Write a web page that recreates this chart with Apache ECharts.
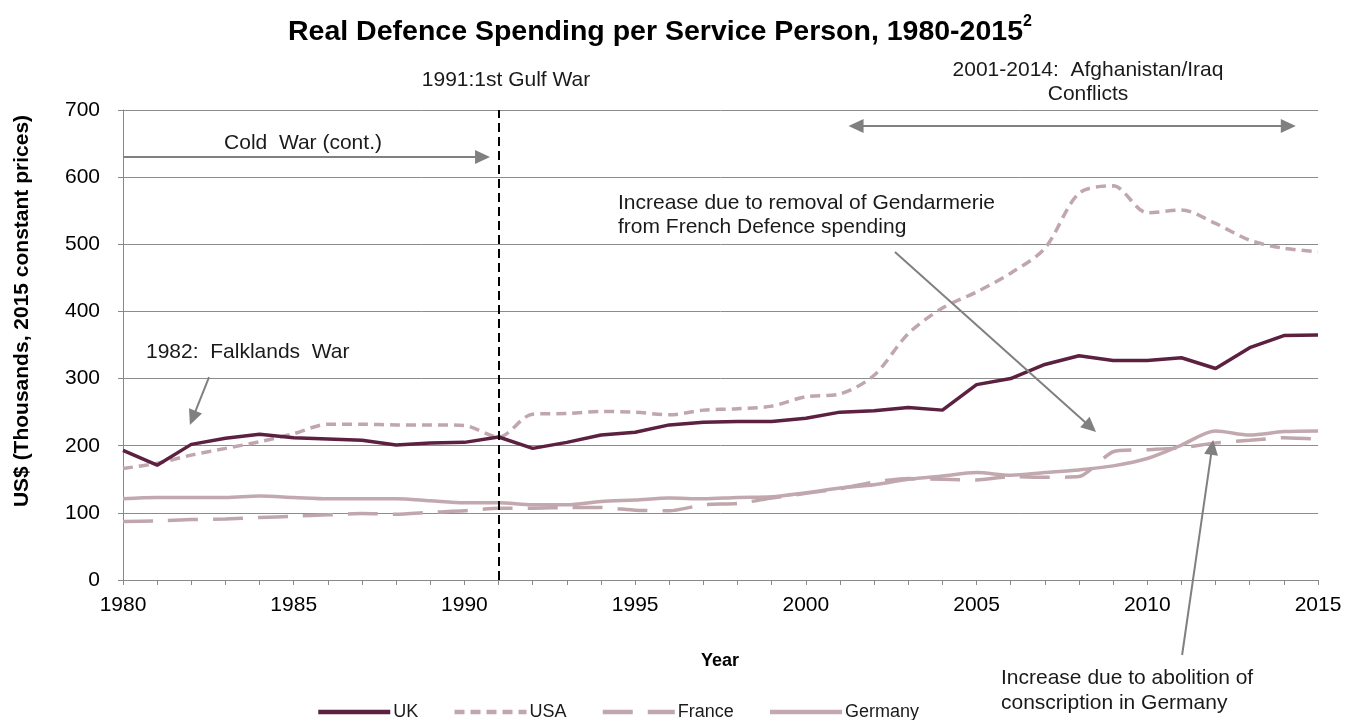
<!DOCTYPE html>
<html>
<head>
<meta charset="utf-8">
<script src="https://cdn.jsdelivr.net/npm/echarts@6/dist/echarts.min.js"></script>
<style>
  html, body { margin: 0; padding: 0; background: #ffffff; }
  #chart { width: 1358px; height: 720px; }
</style>
</head>
<body>
<div id="chart"></div>
<script>
// Years on the horizontal axis
const years = [1980, 1981, 1982, 1983, 1984, 1985, 1986, 1987, 1988, 1989, 1990, 1991,
               1992, 1993, 1994, 1995, 1996, 1997, 1998, 1999, 2000, 2001, 2002, 2003,
               2004, 2005, 2006, 2007, 2008, 2009, 2010, 2011, 2012, 2013, 2014, 2015];

// Real defence spending per service person, US$ thousands (2015 prices)
const uk      = [193, 171, 202, 211, 217, 212, 210, 208, 201, 204, 205, 213,
                 196, 205, 216, 220, 231, 235, 236, 236, 241, 250, 252, 257,
                 253, 291, 300, 321, 334, 327, 327, 331, 315, 346, 364, 365];
const usa     = [166, 174, 186, 196, 206, 218, 232, 232, 231, 231, 230, 213,
                 247, 248, 251, 250, 246, 253, 255, 259, 273, 277, 305, 367,
                 405, 429, 457, 494, 576, 587, 547, 551, 531, 506, 494, 489];
const france  = [87, 88, 90, 91, 93, 95, 97, 99, 98, 101, 103, 107,
                 107, 108, 108, 104, 103, 112, 114, 122, 129, 136, 146, 151,
                 150, 149, 154, 153, 154, 191, 194, 197, 204, 208, 212, 210];
const germany = [121, 123, 123, 123, 125, 123, 121, 121, 121, 118, 115, 115,
                 112, 112, 117, 119, 122, 121, 123, 124, 130, 137, 142, 150,
                 155, 160, 156, 160, 164, 170, 181, 201, 222, 216, 221, 222];

// Axis ticks
const yTicks = [0, 100, 200, 300, 400, 500, 600, 700];
const xLabelYears = [1980, 1985, 1990, 1995, 2000, 2005, 2010, 2015];

const FONT = '"Liberation Sans", Arial, sans-serif';
const UK_COLOR = '#5c2141';
const LIGHT = '#c0a7ae';
const GER_COLOR = '#c1a9af';
const ARROW = '#808080';
const TEXT = '#1a1a1a';
const NOTE_FONT = '21px ' + FONT;

const pairs = arr => years.map((y, i) => [y, arr[i]]);

const chart = echarts.init(document.getElementById('chart'), null, { renderer: 'canvas' });

chart.setOption({
  animation: false,
  backgroundColor: '#ffffff',
  textStyle: { fontFamily: FONT },
  title: {
    left: 283,
    top: 9,
    text: '{t|Real Defence Spending per Service Person, 1980-2015}{s|2}',
    textStyle: {
      rich: {
        t: { fontFamily: FONT, fontSize: 28.5, fontWeight: 'bold', color: '#000', lineHeight: 36 },
        s: { fontFamily: FONT, fontSize: 16, fontWeight: 'bold', color: '#000', lineHeight: 22, verticalAlign: 'top' }
      }
    }
  },
  legend: {
    left: 311,
    top: 698,
    itemWidth: 72,
    itemHeight: 12,
    itemGap: 34,
    data: ['UK', 'USA', 'France', 'Germany'],
    itemStyle: { opacity: 0 },
    lineStyle: { width: 4.5 },
    textStyle: { fontFamily: FONT, fontSize: 18, color: TEXT, padding: [0, 0, 0, -2] }
  },
  grid: { left: 123, right: 40, top: 110, bottom: 140, containLabel: false },
  xAxis: {
    type: 'value',
    min: 1980,
    max: 2015,
    interval: 1,
    axisLine: { show: true, lineStyle: { color: '#888888', width: 1 } },
    axisTick: { show: true, length: 5, lineStyle: { color: '#888888' } },
    splitLine: { show: false },
    axisLabel: {
      fontFamily: FONT, fontSize: 21, color: '#000', margin: 15,
      formatter: v => (xLabelYears.indexOf(v) >= 0 ? String(v) : '')
    }
  },
  yAxis: {
    type: 'value',
    min: yTicks[0],
    max: yTicks[yTicks.length - 1],
    interval: 100,
    axisLine: { show: true, lineStyle: { color: '#888888', width: 1 } },
    axisTick: { show: true, length: 5, lineStyle: { color: '#888888' } },
    splitLine: { show: true, lineStyle: { color: '#8c8c8c', width: 1 } },
    axisLabel: { fontFamily: FONT, fontSize: 21, color: '#000', margin: 23 }
  },
  series: [
    {
      name: 'Germany', type: 'line', data: pairs(germany), showSymbol: false, symbol: 'none',
      smooth: 0.3, z: 2,
      lineStyle: { color: GER_COLOR, width: 3.5 }, itemStyle: { color: GER_COLOR }
    },
    {
      name: 'France', type: 'line', data: pairs(france), showSymbol: false, symbol: 'none',
      smooth: 0.2, z: 2,
      lineStyle: { color: LIGHT, width: 3.5, type: [30, 15] }, itemStyle: { color: LIGHT }
    },
    {
      name: 'USA', type: 'line', data: pairs(usa), showSymbol: false, symbol: 'none',
      smooth: 0.3, z: 3,
      lineStyle: { color: LIGHT, width: 3.5, type: [10, 6] }, itemStyle: { color: LIGHT }
    },
    {
      name: 'UK', type: 'line', data: pairs(uk), showSymbol: false, symbol: 'none',
      z: 4,
      lineStyle: { color: UK_COLOR, width: 3.5 }, itemStyle: { color: UK_COLOR },
      markLine: {
        silent: true,
        symbol: 'none',
        label: { show: false },
        lineStyle: { color: '#000000', width: 2, type: [9, 5] },
        data: [{ xAxis: 1991 }]
      }
    }
  ]
});

// Annotation arrows, given in data coordinates [year, value]
const arrows = [
  { from: [1980, 630], to: [1990.75, 630], both: false },          // Cold War
  { from: [2001.25, 676], to: [2014.35, 676], both: true },        // Afghanistan/Iraq
  { from: [1982.52, 302], to: [1981.96, 231], both: false },       // Falklands
  { from: [2002.61, 488.5], to: [2008.5, 220.4], both: false },    // Gendarmerie
  { from: [2011.02, -111.7], to: [2011.93, 208.5], both: false }   // conscription
];

function arrowHead(tip, tail, len, half) {
  const dx = tip[0] - tail[0], dy = tip[1] - tail[1];
  const d = Math.sqrt(dx * dx + dy * dy);
  const ux = dx / d, uy = dy / d;
  const bx = tip[0] - ux * len, by = tip[1] - uy * len;
  return {
    type: 'polygon', silent: true, z: 10,
    shape: { points: [[tip[0], tip[1]], [bx - uy * half, by + ux * half], [bx + uy * half, by - ux * half]] },
    style: { fill: ARROW }
  };
}

const graphics = [];
arrows.forEach(a => {
  const p1 = chart.convertToPixel({ gridIndex: 0 }, a.from);
  const p2 = chart.convertToPixel({ gridIndex: 0 }, a.to);
  const dx = p2[0] - p1[0], dy = p2[1] - p1[1];
  const d = Math.sqrt(dx * dx + dy * dy);
  const ux = dx / d, uy = dy / d;
  const s = a.both ? [p1[0] + ux * 12, p1[1] + uy * 12] : p1;
  const e = [p2[0] - ux * 12, p2[1] - uy * 12];
  graphics.push({
    type: 'line', silent: true, z: 10,
    shape: { x1: s[0], y1: s[1], x2: e[0], y2: e[1] },
    style: { stroke: ARROW, lineWidth: 2 }
  });
  graphics.push(arrowHead(p2, p1, 15, 7));
  if (a.both) graphics.push(arrowHead(p1, p2, 15, 7));
});

function note(text, x, y, align) {
  return {
    type: 'text', silent: true, z: 11, x: x, y: y,
    style: { text: text, fill: TEXT, font: NOTE_FONT, align: align || 'left', verticalAlign: 'middle' }
  };
}

graphics.push(note('1991:1st Gulf War', 506, 80, 'center'));
graphics.push(note('Cold  War (cont.)', 303, 143, 'center'));
graphics.push(note('1982:  Falklands  War', 146, 352));
graphics.push(note('2001-2014:  Afghanistan/Iraq', 1088, 70, 'center'));
graphics.push(note('Conflicts', 1088, 94, 'center'));
graphics.push(note('Increase due to removal of Gendarmerie', 618, 203));
graphics.push(note('from French Defence spending', 618, 227));
graphics.push(note('Increase due to abolition of', 1001, 678));
graphics.push(note('conscription in Germany', 1001, 703));

// Axis titles
graphics.push({
  type: 'text', silent: true, x: 22, y: 311, rotation: Math.PI / 2,
  style: { text: 'US$ (Thousands, 2015 constant prices)', fill: '#000', font: 'bold 21px ' + FONT, align: 'center', verticalAlign: 'middle' }
});
graphics.push({
  type: 'text', silent: true, x: 720, y: 661,
  style: { text: 'Year', fill: '#000', font: 'bold 18px ' + FONT, align: 'center', verticalAlign: 'middle' }
});

chart.setOption({ graphic: graphics });
</script>
</body>
</html>
